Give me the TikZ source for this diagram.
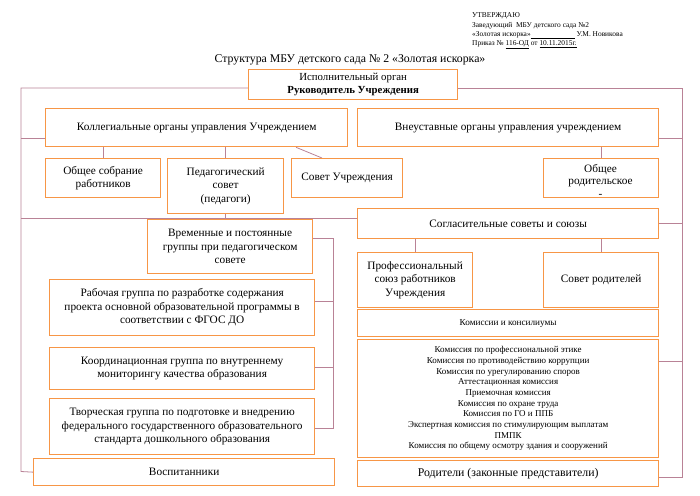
\documentclass[tikz,border=0pt]{standalone}
\usepackage{fontspec}
\setmainfont{Liberation Serif}
\usetikzlibrary{backgrounds}
\definecolor{boxor}{RGB}{247,150,70}
\definecolor{conn}{RGB}{185,130,150}
\tikzset{
  box/.style={draw=boxor, line width=1.3pt, fill=white, align=center, inner sep=2pt,
    font=\fontsize{11.3}{13.5}\selectfont, anchor=north west},
  link/.style={draw=conn, line width=0.8pt},
  plain/.style={inner sep=0pt, align=left, anchor=west, font=\fontsize{7.4}{9}\selectfont}
}
\newcommand{\bxx}[7][]{\node[box, #1, minimum width=#5pt-#3pt, minimum height=#6pt-#4pt] (#2) at (#3,#4) {#7};}
\begin{document}
\begin{tikzpicture}[x=1pt,y=-1pt]
\useasboundingbox (0,0) rectangle (700,495);
% header
\node[plain] (h1) at (472,16) {УТВЕРЖДАЮ};
\node[plain] (h2) at (472,26) {Заведующий\ \ МБУ детского сада №2};
\node[plain] (h3) at (472,35.5) {«Золотая искорка»\underline{\hspace{44pt}} У.М. Новикова};
\node[plain] (h4) at (472,45) {Приказ № \underline{116-ОД} от \underline{10.11.2015г.}};
\node[inner sep=0pt, font=\fontsize{11.8}{14}\selectfont] (title) at (350,60) {Структура МБУ детского сада № 2 «Золотая искорка»};
% boxes
\bxx[font=\fontsize{10.8}{12.5}\selectfont]{dir}{248}{69}{457}{99}{Исполнительный орган\\\textbf{Руководитель Учреждения}}
\bxx{kol}{45}{108}{347}{146}{Коллегиальные органы управления Учреждением}
\bxx{vne}{357}{108}{658}{146}{Внеуставные органы управления учреждением}
\bxx{obs}{45}{158}{160}{197}{Общее собрание\\работников}
\bxx{ped}{167}{158}{283}{213}{Педагогический\\совет\\(педагоги)}
\bxx{sovu}{291}{158}{402}{197}{Совет Учреждения}
\bxx{obrod}{543}{158}{658}{197}{}
\node[inner sep=0pt, align=center, font=\fontsize{11.3}{12.5}\selectfont] (obrodt) at (600.5,180.5) {Общее\\родительское\\-};
\bxx{vrem}{147}{219}{312}{273}{Временные и постоянные\\группы при педагогическом\\совете}
\bxx{rab}{49}{279}{314}{335}{Рабочая группа по разработке содержания\\проекта основной образовательной программы в\\соответствии с ФГОС ДО}
\bxx{koord}{49}{347}{314}{389}{Координационная группа по внутреннему\\мониторингу качества образования}
\bxx{tvor}{49}{398}{314}{454}{Творческая группа по подготовке и внедрению\\федерального государственного образовательного\\стандарта дошкольного образования}
\bxx{vos}{33}{458}{334}{485}{Воспитанники}
\bxx{sog}{357}{208}{658}{238}{Согласительные советы и союзы}
\bxx{prof}{357}{252}{472}{307}{Профессиональный\\союз работников\\Учреждения}
\bxx{sovrod}{543}{252}{658}{307}{Совет родителей}
\bxx[font=\fontsize{9.2}{11}\selectfont]{kom}{357}{309}{658}{336}{Комиссии и консилиумы}
\bxx[font=\fontsize{9}{10.7}\selectfont]{list}{357}{339}{658}{457}{Комиссия по профессиональной этике\\
Комиссия по противодействию коррупции\\
Комиссия по урегулированию споров\\
Аттестационная комиссия\\
Приемочная комиссия\\
Комиссия по охране труда\\
Комиссия по ГО и ППБ\\
Экспертная комиссия по стимулирующим выплатам\\
ПМПК\\
Комиссия по общему осмотру здания и сооружений}
\bxx[font=\fontsize{11.8}{14}\selectfont]{rod}{357}{460}{658}{486}{Родители (законные представители)}
% connectors
\begin{pgfonlayer}{background}
\coordinate (tl) at (21,88);
\coordinate (tr) at (682,88);
\coordinate (lb) at (21,471.5);
\coordinate (rb) at (682,477);
\coordinate (bx) at (333,238);
\coordinate (bxe) at (333,428);
\draw[link] (dir.west |- tl) -- (tl) -- (lb) -- (vos.west);
\draw[link] (dir.east |- tr) -- (tr) -- (rb) -- (rb -| rod.east);
\draw[link] (21,138) -- (kol.west |- 21,138);
\draw[link] (21,218) -- (sog.west |- 21,218);
\draw[link] (682,138) -- (vne.east |- 682,138);
\draw[link] (682,223) -- (sog.east |- 682,223);
\draw[link] (682,361) -- (list.east |- 682,361);
\draw[link] (obs.north) -- (obs.north |- kol.south);
\draw[link] (ped.north) -- (ped.north |- kol.south);
\draw[link] (296,0 |- kol.south) -- (322,0 |- sovu.north);
\draw[link] (obrod.north) -- (obrod.north |- vne.south);
\draw[link] (ped.south) -- (ped.south |- vrem.north);
\draw[link] (prof.north) -- (prof.north |- sog.south);
\draw[link] (sovrod.north) -- (sovrod.north |- sog.south);
\draw[link] (vrem.east |- bx) -- (bx) -- (bxe) -- (tvor.east |- bxe);
\draw[link] (333,301) -- (rab.east |- 333,301);
\draw[link] (333,367) -- (koord.east |- 333,367);
\end{pgfonlayer}
\end{tikzpicture}
\end{document}
